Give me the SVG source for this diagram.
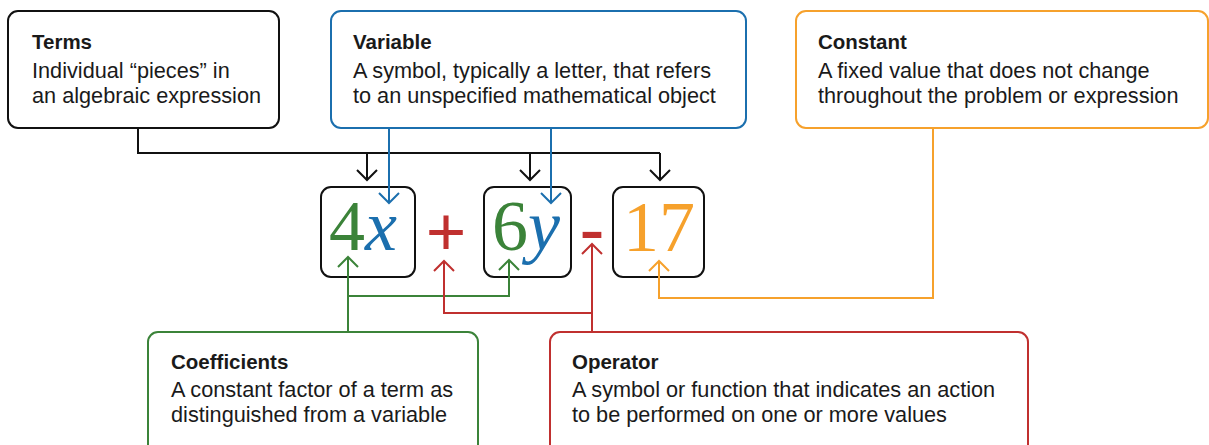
<svg xmlns="http://www.w3.org/2000/svg" width="1209" height="445" viewBox="0 0 1209 445">
<style>
.box{fill:#fff;stroke-width:2}
.t{font-family:"Liberation Sans","Arial",sans-serif;font-size:21.7px;fill:#1a1a1a}
.b{font-weight:bold;font-size:20.5px}
.con{fill:none;stroke-width:2}
.k{stroke:#111}.bl{stroke:#1b6fae}.gr{stroke:#3b8339}.rd{stroke:#c0302f}.or{stroke:#f6a12c}
.m{font-family:"Liberation Serif","DejaVu Serif",serif;font-size:72px}
</style>
<g id="terms"><rect class="box k" x="8" y="11" width="271" height="117" rx="10"/>
<text class="t" x="32" y="49"><tspan class="b">Terms</tspan><tspan x="32" y="78">Individual “pieces” in</tspan><tspan x="32" y="103">an algebraic expression</tspan></text></g>
<g id="variable"><rect class="box bl" x="331" y="11" width="415" height="117" rx="10"/>
<text class="t" x="353" y="49"><tspan class="b">Variable</tspan><tspan x="353" y="78">A symbol, typically a letter, that refers</tspan><tspan x="353" y="103">to an unspecified mathematical object</tspan></text></g>
<g id="constant"><rect class="box or" x="796" y="11" width="412" height="117" rx="10"/>
<text class="t" x="818" y="49"><tspan class="b">Constant</tspan><tspan x="818" y="78">A fixed value that does not change</tspan><tspan x="818" y="103">throughout the problem or expression</tspan></text></g>
<g id="coefficients"><rect class="box gr" x="148" y="332" width="330" height="125" rx="10"/>
<text class="t" x="171" y="369"><tspan class="b">Coefficients</tspan><tspan x="171" y="397">A constant factor of a term as</tspan><tspan x="171" y="422">distinguished from a variable</tspan></text></g>
<g id="operator"><rect class="box rd" x="550" y="332" width="478" height="125" rx="10"/>
<text class="t" x="572" y="369"><tspan class="b">Operator</tspan><tspan x="572" y="397">A symbol or function that indicates an action</tspan><tspan x="572" y="422">to be performed on one or more values</tspan></text></g>
<g id="term1"><rect class="box k" x="321" y="187" width="94" height="90" rx="10"/>
<text class="m" x="329" y="250"><tspan fill="#3b8339">4</tspan><tspan fill="#1b6fae" font-style="italic">x</tspan></text></g>
<g id="plus"><text class="m" x="446" y="256" text-anchor="middle" font-size="82" font-weight="bold" fill="#c0302f">+</text></g>
<g id="term2"><rect class="box k" x="484" y="187" width="87" height="90" rx="10"/>
<text class="m" x="492" y="250"><tspan fill="#3b8339">6</tspan><tspan fill="#1b6fae" font-style="italic">y</tspan></text></g>
<g id="minus"><text class="m" x="592" y="252" text-anchor="middle" font-weight="bold" font-size="70" fill="#c0302f">-</text></g>
<g id="term3"><rect class="box k" x="613" y="187" width="91" height="90" rx="10"/>
<text class="m" x="659" y="251" text-anchor="middle" fill="#f6a12c">17</text></g>
<g id="connectors">
<path class="con k" d="M138 128 V153 H660"/>
<path class="con k" d="M367 153 V180"/><path class="con k" d="M530 153 V180"/><path class="con k" d="M660 153 V180"/>
<path class="con k" d="M357 170 L367 180 L377 170"/><path class="con k" d="M520 170 L530 180 L540 170"/><path class="con k" d="M650 170 L660 180 L670 170"/>
<path class="con bl" d="M389 128 V203 M379 193 L389 203 L399 193"/>
<path class="con bl" d="M551 128 V203 M541 193 L551 203 L561 193"/>
<path class="con gr" d="M348 332 V257 M338 267 L348 257 L358 267"/>
<path class="con gr" d="M348 296 H509 V260 M499 270 L509 260 L519 270"/>
<path class="con rd" d="M592 332 V244 M582 254 L592 244 L602 254"/>
<path class="con rd" d="M592 313 H444 V261 M434 271 L444 261 L454 271"/>
<path class="con or" d="M933 128 V298 H659 V261 M649 271 L659 261 L669 271"/>
</g>
</svg>
